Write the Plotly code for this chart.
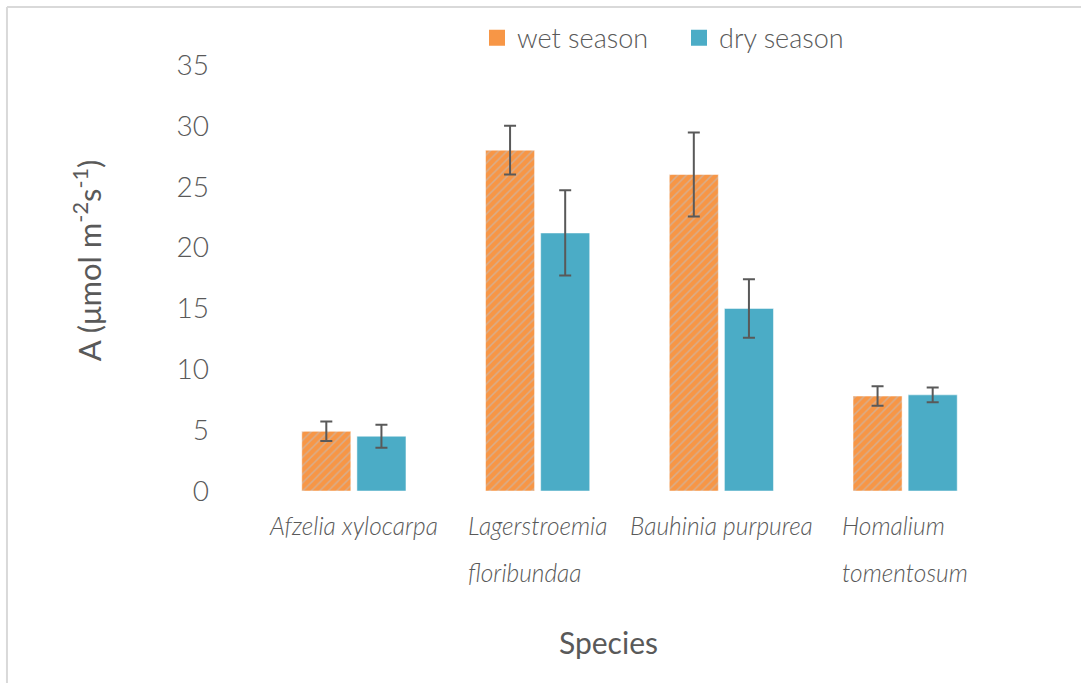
import plotly.graph_objects as go

species = ["Afzelia xylocarpa", "Lagerstroemia floribundaa",
           "Bauhinia purpurea", "Homalium tomentosum"]
species_lines = [["Afzelia xylocarpa"], ["Lagerstroemia", "floribundaa"],
                 ["Bauhinia purpurea"], ["Homalium", "tomentosum"]]
wet_season = [4.9, 28.0, 26.0, 7.8]
wet_err = [0.8, 2.0, 3.45, 0.8]
dry_season = [4.5, 21.2, 15.0, 7.9]
dry_err = [0.95, 3.5, 2.4, 0.6]

grey = "#595959"
orange = "#F79646"
blue = "#4BACC6"
font_family = "Lato"

fig = go.Figure()

# wet season (hatched orange)
fig.add_trace(
    go.Bar(x=species, y=wet_season, name="wet season", showlegend=False,
           marker=dict(color=orange,
                       pattern=dict(shape="/", fgcolor="#B8C3D1", size=6, solidity=0.25)),
           error_y=dict(type="data", array=wet_err, color=grey, thickness=2, width=6))
)

# dry season
fig.add_trace(
    go.Bar(x=species, y=dry_season, name="dry season", showlegend=False,
           marker=dict(color=blue),
           error_y=dict(type="data", array=dry_err, color=grey, thickness=2, width=6))
)

# legend entries with larger square swatches
for name, col in [("wet season", orange), ("dry season", blue)]:
    fig.add_trace(go.Scatter(x=[None], y=[None], mode="markers", name=name,
                             marker=dict(symbol="square", size=16, color=col)))

# species labels: wide line spacing, lines left aligned
annotations = []
for s, lines in zip(species, species_lines):
    lab = "<br>".join("<span style='font-size:24.5px'>%s</span>" % l for l in lines)
    annotations.append(dict(x=s, xref="x", y=-0.043, yref="paper", text=lab,
                            showarrow=False, xanchor="center", yanchor="top", align="left",
                            font=dict(family=font_family, size=36, color=grey, style="italic", weight=300)))

# axis titles
annotations.append(dict(x=0.472, xref="paper", y=-0.354, yref="paper", text="Species",
                        showarrow=False, xanchor="center", yanchor="middle",
                        font=dict(family=font_family, size=30, color=grey, weight=400)))
annotations.append(dict(x=-0.238, xref="paper", y=0.542, yref="paper",
                        text="A (μmol m<sup>-2</sup>s<sup>-1</sup>)", textangle=-90,
                        showarrow=False, xanchor="center", yanchor="middle",
                        font=dict(family=font_family, size=31, color=grey, weight=400)))

# light frame around the chart
frame = dict(color="#D9D9D9", width=2)
shapes = [
    dict(type="line", xref="paper", yref="paper", x0=-0.347, x1=-0.347, y0=1.136, y1=-0.6, line=frame),
    dict(type="line", xref="paper", yref="paper", x0=-0.347, x1=1.3, y0=1.136, y1=1.136, line=frame),
]

fig.update_layout(
    template="plotly_white",
    width=1081, height=683,
    margin=dict(l=262, r=84, t=65, b=192),
    paper_bgcolor="white", plot_bgcolor="white",
    barmode="group", bargap=0.4, bargroupgap=0.11,
    font=dict(family=font_family, color=grey, weight=300),
    legend=dict(orientation="h", x=(477 - 262) / 735, y=1.063, xanchor="left", yanchor="middle",
                font=dict(size=27, color=grey, weight=300), itemwidth=30,
                entrywidth=157, bgcolor="rgba(0,0,0,0)"),
    annotations=annotations,
    shapes=shapes,
)

fig.update_xaxes(showticklabels=False, showgrid=False, showline=False, zeroline=False, ticks="")
fig.update_yaxes(range=[0, 35], dtick=5, showgrid=False, showline=False, zeroline=False, ticks="",
                 tickfont=dict(size=28, color=grey, weight=300), ticklabelstandoff=52)

fig.write_html("out.html", config={"displayModeBar": False},
               post_script="document.body.style.margin='0';")
